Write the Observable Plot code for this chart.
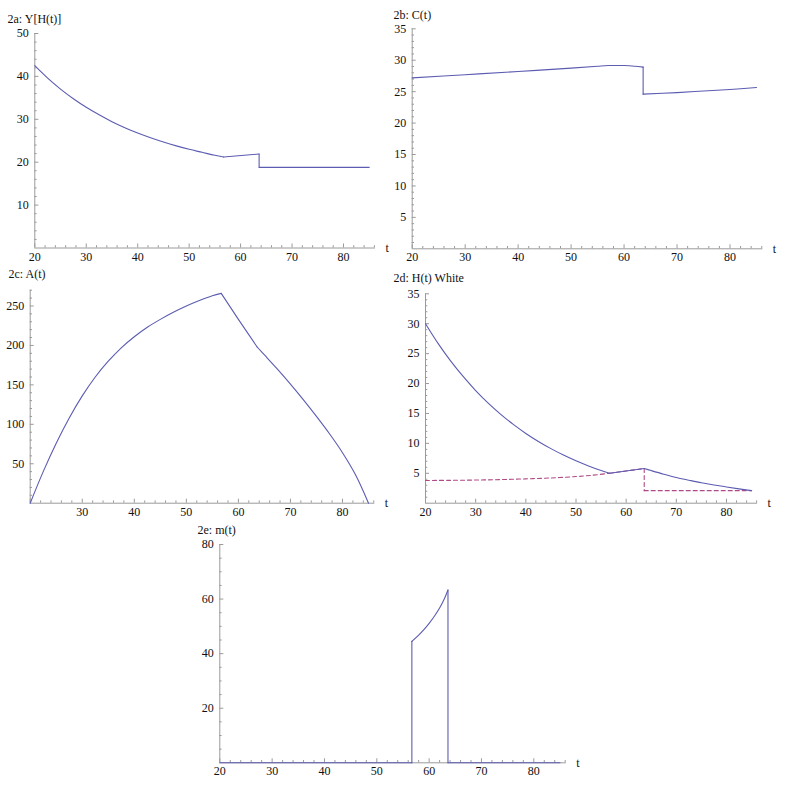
<!DOCTYPE html>
<html><head><meta charset="utf-8">
<script src="https://cdn.jsdelivr.net/npm/d3@7"></script>
<script src="https://cdn.jsdelivr.net/npm/@observablehq/plot@0.6"></script>
<style>
html,body{margin:0;padding:0;background:#fff;}
#chart{position:relative;width:785px;height:786px;overflow:hidden;background:#fff;}
#chart svg{position:absolute;left:0;top:0;overflow:visible;}
#chart svg text{font-family:'Liberation Serif','DejaVu Serif',serif !important;font-size:12px !important;}
</style></head><body><div id="chart"></div>
<script>
// ---- data ----
// 2a: Y[H(t)]
const tA = [20,22.5,25,27.5,30,32.5,35,37.5,40,42.5,45,47.5,50,52.5,55,56.7,63.6,63.6,85];
const vA = [42.5,39.6,37.05,34.8,32.8,31.05,29.45,28.05,26.8,25.7,24.7,23.8,23.0,22.3,21.6,21.2,21.9,18.8,18.8];
// 2b: C(t)
const tB = [20,30,40,50,55,57,60,62,63.6,63.6,70,75,80,85];
const vB = [27.2,27.7,28.2,28.75,29.05,29.15,29.15,29.05,28.9,24.6,24.85,25.1,25.35,25.65];
// 2c: A(t)
const tC = [20,22.5,25,27.5,30,32.5,35,37.5,40,42.5,45,47.5,50,52.5,55,56.7,60,63.6,65,67.5,70,72.5,75,77.5,80,82.5,85];
const vC = [0,40,76,108,136,160,180,197,211,223,233,242,250,257,263,266,233,198,188,170,151,131,110,88,64,36,0];
// 2d: H(t) White (solid) and second series (dashed)
const tD = [20,22.5,25,27.5,30,32.5,35,37.5,40,42.5,45,47.5,50,52.5,55,56.7,63.6,65,67.5,70,72.5,75,77.5,80,82.5,85];
const vD = [30,26.72,23.8,21.19,18.83,16.73,14.85,13.17,11.66,10.32,9.12,8.04,7.08,6.22,5.45,5.0,5.8,5.45,4.85,4.3,3.85,3.42,3.05,2.72,2.4,2.1];
const tD2 = [20,25,30,35,40,45,50,53,56.7,63.6,63.6,85];
const vD2 = [3.8,3.82,3.87,3.95,4.07,4.22,4.45,4.65,5.0,5.8,2.1,2.1];
// 2e: m(t)
const tE = [20,56.7,56.7,58,59,60,61,62,63,63.6,63.6,85];
const vE = [0,0,44.5,46.8,48.8,51.1,53.7,56.7,60.5,63.3,0,0];

// ---- tick labels ----
const xTicksAll = [20,30,40,50,60,70,80];
const xTicksNoOrigin = [30,40,50,60,70,80];
const yTicksA = [10,20,30,40,50];
const yTicksB = [5,10,15,20,25,30,35];
const yTicksC = [50,100,150,200,250];
const yTicksD = [5,10,15,20,25,30,35];
const yTicksE = [20,40,60,80];

// ---- styling ----
const AXIS = "#9a9a9a";
const C1 = "#5c5cb2";
const C2 = "#b04a86";
const X_END = 86.2;
const FONT = "'Liberation Serif', 'DejaVu Serif', serif";

// split a series into pieces at kinks/jumps (break indices belong to both sides)
function pieces(t, v, breaks) {
  const cuts = [0, ...breaks, t.length - 1];
  const out = [];
  for (let i = 0; i < cuts.length - 1; i++) {
    const idx = d3.range(cuts[i], cuts[i + 1] + 1);
    out.push({t: idx.map(j => t[j]), v: idx.map(j => v[j])});
  }
  return out;
}

function panel(cfg) {
  const {title, lines, yMax, yTicks, yMinorStep, xLabels, f} = cfg;
  const kx = (f.x80 - f.x20) / 60;
  const ky = (f.y0 - f.yTop) / yMax;
  const xRight = f.x20 + (X_END - 20) * kx;
  const xMinor = d3.range(22, X_END, 2).filter(v => v % 10 !== 0);
  const yMinor = d3.range(1, Math.round(yMax / yMinorStep) + 1)
    .map(i => i * yMinorStep).filter(v => !yTicks.includes(v));
  const lineMarks = [];
  for (const l of lines) {
    for (const p of pieces(l.t, l.v, l.breaks)) {
      lineMarks.push(Plot.line(p.v, {x: p.t, y: p.v, stroke: l.color, strokeWidth: 1.1,
        strokeDasharray: l.dash || null, curve: p.t.length > 3 ? "catmull-rom" : "linear"}));
    }
  }
  const marks = [
    Plot.ruleY([0], {x1: 20, x2: X_END, stroke: AXIS}),
    Plot.ruleX([20], {y1: 0, y2: yMax, stroke: AXIS}),
    Plot.ruleX(xTicksAll, {x: d => d, y1: 0, y2: 4 / ky, stroke: AXIS}),
    Plot.ruleX(xMinor, {x: d => d, y1: 0, y2: 2.3 / ky, stroke: AXIS}),
    Plot.ruleY(yTicks, {y: d => d, x1: 20, x2: 20 + 4 / kx, stroke: AXIS}),
    Plot.ruleY(yMinor, {y: d => d, x1: 20, x2: 20 + 2.3 / kx, stroke: AXIS}),
    Plot.axisX(xLabels, {anchor: "bottom", tickSize: 0, tickPadding: 4, label: null, fill: "#111",
      fontFamily: FONT, fontSize: 12}),
    Plot.axisY(yTicks, {anchor: "left", tickSize: 0, tickPadding: 6, label: null, fill: "#111",
      fontFamily: FONT, fontSize: 12}),
    ...lineMarks,
    Plot.text(["t"], {frameAnchor: "bottom-right", textAnchor: "start", lineAnchor: "middle", dx: 10,
      fill: "#111", fontFamily: FONT, fontSize: 12}),
    Plot.text([title], {frameAnchor: "top-left", textAnchor: "start", lineAnchor: "middle",
      dx: f.titleX - f.x20, dy: f.titleY - f.yTop, fill: "#111", fontFamily: FONT, fontSize: 12})
  ];
  return Plot.plot({
    width: 785, height: 786,
    marginLeft: f.x20, marginRight: 785 - xRight,
    marginTop: f.yTop, marginBottom: 786 - f.y0,
    x: {domain: [20, X_END]},
    y: {domain: [0, yMax]},
    style: {fontFamily: FONT, fontSize: "12px", background: "transparent", overflow: "visible"},
    marks
  });
}

const chart = document.getElementById("chart");
const panels = [
  {title: "2a: Y[H(t)]", lines: [{t: tA, v: vA, color: C1, breaks: [15, 16, 17]}], yMax: 50, yTicks: yTicksA, yMinorStep: 2,
   xLabels: xTicksAll, f: {x20: 34.3, x80: 343, y0: 247.5, yTop: 33, titleX: 7, titleY: 19}},
  {title: "2b: C(t)", lines: [{t: tB, v: vB, color: C1, breaks: [8, 9]}], yMax: 35, yTicks: yTicksB, yMinorStep: 1,
   xLabels: xTicksAll, f: {x20: 411.7, x80: 729.5, y0: 248.3, yTop: 28.3, titleX: 393, titleY: 15}},
  {title: "2c: A(t)", lines: [{t: tC, v: vC, color: C1, breaks: [15, 17]}], yMax: 270, yTicks: yTicksC, yMinorStep: 10,
   xLabels: xTicksNoOrigin, f: {x20: 29.7, x80: 342, y0: 502.7, yTop: 289.7, titleX: 8, titleY: 274}},
  {title: "2d: H(t) White", lines: [
     {t: tD2, v: vD2, color: C2, dash: "4,3", breaks: [8, 9, 10]},
     {t: tD, v: vD, color: C1, breaks: [15, 16]}], yMax: 35, yTicks: yTicksD, yMinorStep: 1,
   xLabels: xTicksAll, f: {x20: 425, x80: 726, y0: 502.7, yTop: 293.3, titleX: 393, titleY: 278}},
  {title: "2e: m(t)", lines: [{t: tE, v: vE, color: C1, breaks: [1, 2, 9, 10]}], yMax: 80, yTicks: yTicksE, yMinorStep: 5,
   xLabels: xTicksAll, f: {x20: 219.3, x80: 533.3, y0: 762.3, yTop: 544, titleX: 197, titleY: 530}}
];
for (const p of panels) chart.appendChild(panel(p));
</script></body></html>
